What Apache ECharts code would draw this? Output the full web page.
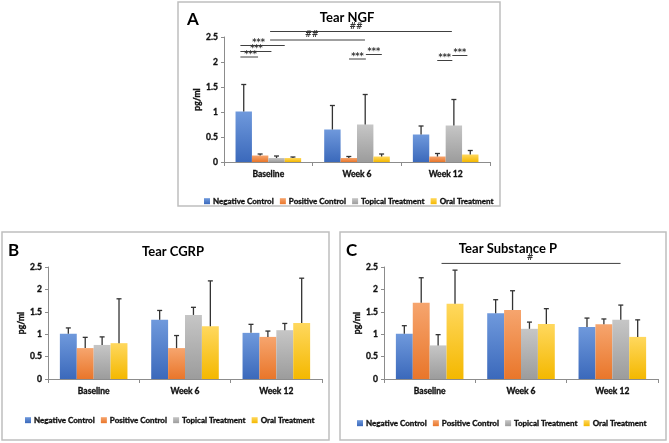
<!DOCTYPE html>
<html lang="en">
<head>
    <meta charset="UTF-8">
    <title>Tear NGF / CGRP / Substance P</title>
    <script src="https://cdn.jsdelivr.net/npm/echarts@6/dist/echarts.min.js"></script>
    <style>
        html, body { margin: 0; padding: 0; background: #fff; }
    </style>
</head>
<body>
<div id="main" style="width: 669px;height:443px;"></div>
<script type="text/javascript">
    var categories = ['Baseline', 'Week 6', 'Week 12'];
    var groups = ['Negative Control', 'Positive Control', 'Topical Treatment', 'Oral Treatment'];

    // means, one row per group (Negative, Positive, Topical, Oral)
    var ngfMean = [[1.01, 0.65, 0.55], [0.13, 0.08, 0.11], [0.08, 0.75, 0.73], [0.08, 0.11, 0.15]];
    // top of the error bar
    var ngfErr = [[1.55, 1.13, 0.72], [0.16, 0.11, 0.17], [0.12, 1.35, 1.25], [0.10, 0.16, 0.23]];

    var cgrpMean = [[1.01, 1.32, 1.03], [0.69, 0.69, 0.94], [0.76, 1.43, 1.09], [0.80, 1.18, 1.25]];
    var cgrpErr = [[1.14, 1.53, 1.22], [0.93, 0.97, 1.07], [0.94, 1.60, 1.24], [1.79, 2.19, 2.25]];

    var spMean = [[1.01, 1.47, 1.16], [1.70, 1.54, 1.22], [0.75, 1.12, 1.32], [1.68, 1.23, 0.94]];
    var spErr = [[1.19, 1.77, 1.36], [2.26, 1.97, 1.34], [0.99, 1.27, 1.65], [2.43, 1.57, 1.32]];

    var yTicks = [0, 0.5, 1, 1.5, 2, 2.5];

    // significance brackets: [from, to, y, label, labelAt] (x in category units 0..3)
    var ngfSig = [
        [0.52, 2.57, 2.61, '##', 1.49],
        [0.52, 1.59, 2.44, '##', 0.99],
        [0.185, 0.685, 2.33, '***', 0.39],
        [0.185, 0.535, 2.21, '***', 0.366],
        [0.185, 0.384, 2.10, '***', 0.30],
        [1.41, 1.60, 2.06, '***', 1.505],
        [1.60, 1.78, 2.15, '***', 1.69],
        [2.405, 2.575, 2.03, '***', 2.49],
        [2.575, 2.745, 2.13, '***', 2.66]
    ];
    var spSig = [
        [0.63, 2.59, 2.58, '#', 1.60]
    ];

    var font = 'Lato, "Open Sans", sans-serif';
    var gap = 0.26;
    var colors = [
        ['#6f99dc', '#3b69bb'],
        ['#f6a56e', '#e9762a'],
        ['#c6c6c6', '#9c9c9c'],
        ['#ffd85e', '#f4b800']
    ];

    // small bold labels, slightly thickened to look like the original print
    var small = {
        color: '#111', fontFamily: font, fontWeight: 'bold', fontSize: 8.5,
        textBorderColor: '#111', textBorderWidth: 0.35
    };

    var myChart = echarts.init(document.getElementById('main'));

    var grids = [
        {left: 224, top: 37, width: 266, height: 125},
        {left: 48, top: 267, width: 274, height: 112},
        {left: 384, top: 267, width: 274, height: 112}
    ];

    function grad(i) {
        return new echarts.graphic.LinearGradient(0, 0, 0, 1, [
            {offset: 0, color: colors[i][0]},
            {offset: 1, color: colors[i][1]}
        ]);
    }

    function catAxis(k) {
        return {
            type: 'category', gridIndex: k, data: categories,
            axisLine: {lineStyle: {color: '#8c8c8c', width: 1}},
            axisTick: {show: true, length: 4, lineStyle: {color: '#8c8c8c'}},
            axisLabel: Object.assign({margin: 8}, small)
        };
    }

    function valAxis(k) {
        return {
            type: 'value', gridIndex: k, min: 0, max: 2.5, interval: 0.5,
            name: 'pg/ml', nameLocation: 'middle', nameGap: 20, nameRotate: 90,
            nameTextStyle: small,
            splitLine: {show: false},
            axisLine: {show: true, lineStyle: {color: '#8c8c8c', width: 1}},
            axisTick: {show: true, length: 3, lineStyle: {color: '#8c8c8c'}},
            axisLabel: Object.assign({
                margin: 6,
                formatter: function (v) { return yTicks.indexOf(v) >= 0 ? String(v) : ''; }
            }, small)
        };
    }

    function barSeries(k, means) {
        return means.map(function (vals, s) {
            return {
                name: groups[s], type: 'bar', xAxisIndex: k, yAxisIndex: k,
                barGap: '0%', barCategoryGap: (gap * 100) + '%',
                itemStyle: {color: grad(s)},
                data: vals
            };
        });
    }

    function errSeries(k, means, tops) {
        var data = [];
        means.forEach(function (vals, s) {
            vals.forEach(function (v, c) { data.push([c, v, tops[s][c], s]); });
        });
        return {
            type: 'custom', xAxisIndex: k, yAxisIndex: k, silent: true, z: 5,
            data: data,
            renderItem: function (params, api) {
                var c = api.value(0), v = api.value(1), t = api.value(2), s = api.value(3);
                var band = api.size([1, 0])[0];
                var bw = band * (1 - gap) / 4;
                var cx = api.coord([c, 0])[0] - 2 * bw + (s + 0.5) * bw;
                var y0 = api.coord([c, v])[1];
                var y1 = api.coord([c, t])[1];
                var st = {stroke: '#333', lineWidth: 1.3};
                return {
                    type: 'group', children: [
                        {type: 'line', shape: {x1: cx, y1: y0, x2: cx, y2: y1}, style: st},
                        {type: 'line', shape: {x1: cx - 2.5, y1: y1, x2: cx + 2.5, y2: y1}, style: st}
                    ]
                };
            }
        };
    }

    function sigSeries(xIdx, yIdx, rows) {
        return {
            type: 'custom', xAxisIndex: xIdx, yAxisIndex: yIdx, silent: true, clip: false, z: 6,
            data: rows.map(function (r) { return [r[0], r[2]]; }),
            renderItem: function (params, api) {
                var r = rows[params.dataIndex];
                var a = api.coord([r[0], r[2]]);
                var b = api.coord([r[1], r[2]]);
                var t = api.coord([r[4], r[2]]);
                var hash = r[3].charAt(0) === '#';
                return {
                    type: 'group', children: [
                        {type: 'line', shape: {x1: a[0], y1: a[1], x2: b[0], y2: b[1]},
                            style: {stroke: '#404040', lineWidth: 1}},
                        {type: 'text', x: t[0], y: a[1] - (hash ? 9 : 6.5),
                            style: {text: r[3], fill: '#333', font: 'bold 8px "DejaVu Sans"',
                                textAlign: 'center', textVerticalAlign: 'top'}}
                    ]
                };
            }
        };
    }

    function hiddenAxis(k) {
        return {type: 'value', gridIndex: k, min: 0, max: 3, show: false};
    }

    function legend(left, top) {
        return {
            left: left, top: top, itemWidth: 6, itemHeight: 6, itemGap: 6, icon: 'rect',
            data: groups,
            textStyle: Object.assign({}, small, {fontSize: 8, padding: [0, 0, 0, -2]})
        };
    }

    var titleStyle = {color: '#000', fontFamily: font, fontWeight: 'bold', fontSize: 13};
    var letterStyle = {color: '#000', fontFamily: font, fontWeight: 'bold', fontSize: 17};

    var option = {
        animation: false,
        title: [
            {text: 'Tear NGF', left: 342, top: 6, textAlign: 'center', textStyle: titleStyle},
            {text: 'Tear CGRP', left: 168, top: 240, textAlign: 'center', textStyle: titleStyle},
            {text: 'Tear Substance P', left: 503, top: 237, textAlign: 'center', textStyle: titleStyle},
            {text: 'A', left: 182, top: 6, textStyle: letterStyle},
            {text: 'B', left: 3, top: 237, textStyle: letterStyle},
            {text: 'C', left: 341, top: 237, textStyle: letterStyle}
        ],
        graphic: [
            {type: 'rect', shape: {x: 178, y: 2, width: 322, height: 204}, style: {fill: 'none', stroke: '#bfbfbf', lineWidth: 1.5}},
            {type: 'rect', shape: {x: 2, y: 232, width: 327, height: 208}, style: {fill: 'none', stroke: '#bfbfbf', lineWidth: 1.5}},
            {type: 'rect', shape: {x: 340, y: 232, width: 326, height: 208}, style: {fill: 'none', stroke: '#bfbfbf', lineWidth: 1.5}}
        ],
        legend: [legend(199, 192), legend(20, 411), legend(352, 414)],
        grid: grids,
        xAxis: [catAxis(0), catAxis(1), catAxis(2), hiddenAxis(0), hiddenAxis(2)],
        yAxis: [valAxis(0), valAxis(1), valAxis(2)],
        series: [].concat(
            barSeries(0, ngfMean), [errSeries(0, ngfMean, ngfErr), sigSeries(3, 0, ngfSig)],
            barSeries(1, cgrpMean), [errSeries(1, cgrpMean, cgrpErr)],
            barSeries(2, spMean), [errSeries(2, spMean, spErr), sigSeries(4, 2, spSig)]
        )
    };

    myChart.setOption(option);
</script>
</body>
</html>
